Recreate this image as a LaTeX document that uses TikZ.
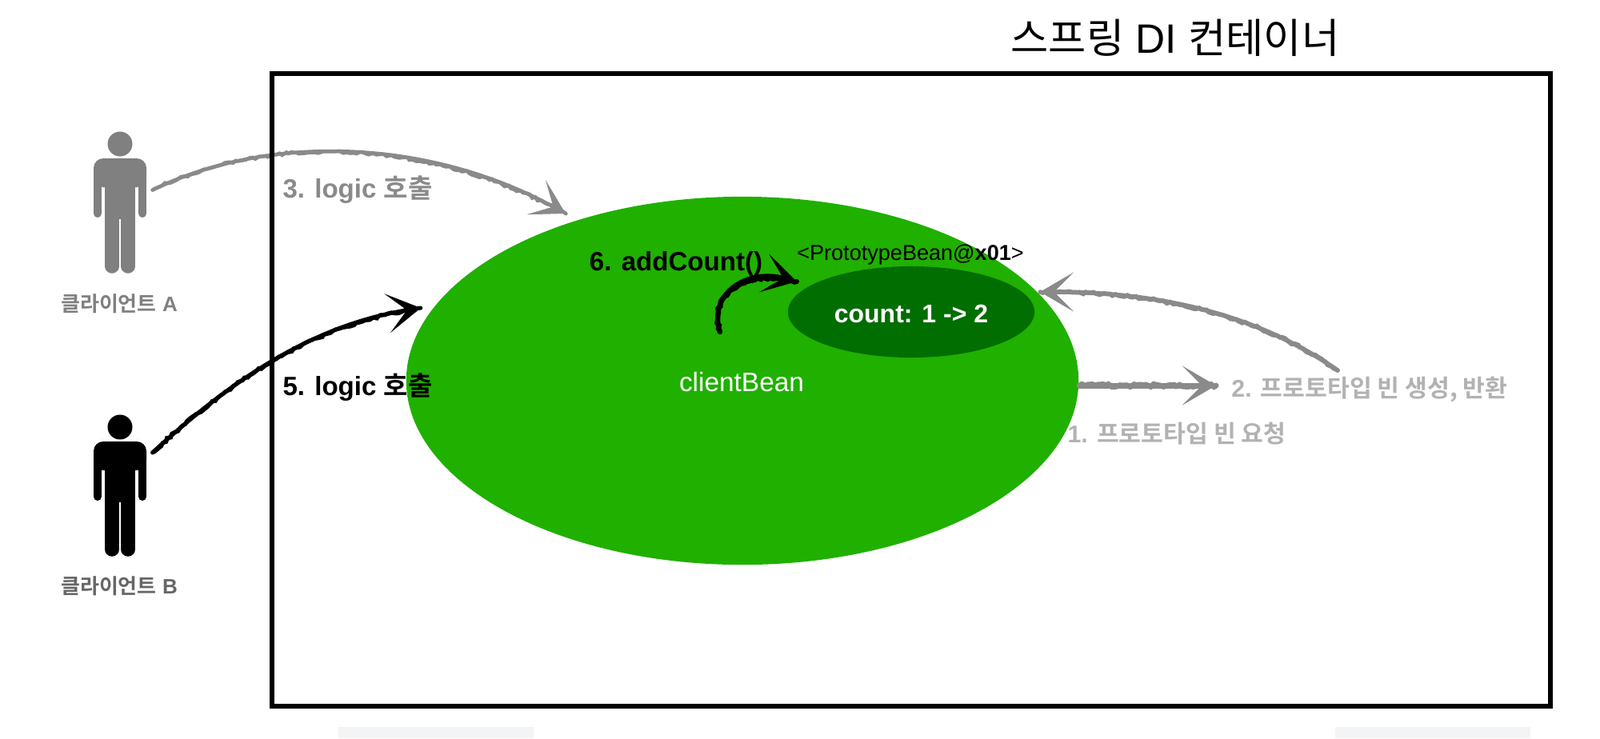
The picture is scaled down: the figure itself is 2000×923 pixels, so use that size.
\documentclass[tikz,border=0pt]{standalone}
\usepackage{fontspec}
\setmainfont{Liberation Sans}
\newfontfamily\kr[BoldFont={Noto Sans CJK KR Bold}]{Noto Sans CJK KR}
\usetikzlibrary{arrows.meta,decorations.pathmorphing,shapes.geometric}

\definecolor{beanGreen}{HTML}{20B000}
\definecolor{countGreen}{HTML}{006E00}
\definecolor{callGray}{HTML}{8A8A8A}
\definecolor{noteGray}{HTML}{B2B2B2}
\definecolor{tabGray}{HTML}{F3F4F6}

\tikzset{
    boldlabel/.style={inner sep=0, font=\fontsize{9.4}{11}\selectfont\bfseries},
    notelabel/.style={inner sep=0, text=noteGray, font=\fontsize{8.6}{10}\selectfont\bfseries},
    clientlabel/.style={inner sep=0, font=\fontsize{7.4}{9}\selectfont\bfseries},
    clientbox/.style={inner sep=0, minimum width=0.8cm, minimum height=1.76cm},
    sketch/.style={line cap=round, -{Stealth[length=12pt, width=14pt, inset=7pt]}, postaction={draw, -, decorate, decoration={random steps, segment length=1.2pt, amplitude=0.45pt}}},
    person/.pic={
        \fill[#1] (0,-74) circle (15.5);
        \fill[#1, rounded corners=0.12cm] (-33,-56) rectangle (33,-20);
        \fill[#1] (-19,-40) rectangle (19,20);
        \draw[#1, line width=0.1cm, line cap=round] (-28,-40) -- (-28,13);
        \draw[#1, line width=0.1cm, line cap=round] (28,-40) -- (28,13);
        \draw[#1, line width=0.175cm, line cap=round] (-10,0) -- (-10,79);
        \draw[#1, line width=0.175cm, line cap=round] (10,0) -- (10,79);
    }
}

\begin{document}
\begin{tikzpicture}[x=0.01cm, y=-0.01cm]
    \useasboundingbox (0,0) rectangle (2000,923);

    % tabs under the frame
    \fill[tabGray] (423,909) rectangle (667,923);
    \fill[tabGray] (1669,909) rectangle (1913,923);

    \node[clientbox] (clientA) at (150,254) {};
    \node[clientbox] (clientB) at (150,608) {};
    \pic at (clientA) {person=gray};
    \pic at (clientB) {person=black};

    \coordinate (logicA) at (707,267);
    \draw[callGray, line width=0.045cm, sketch] (clientA.22) .. controls (340,165) and (540,175) .. (logicA);

    \node[draw, line width=0.06cm, minimum width=15.98cm, minimum height=7.91cm] (container) at (1139,487.5) {};
    \node[font=\fontsize{14.6}{17}\selectfont, inner sep=0] (title) at (1469,47) {{\kr 스프링} DI {\kr 컨테이너}};

    \node[ellipse, fill=beanGreen, minimum width=8.4cm, minimum height=4.6cm, inner sep=0] (clientBean) at (928,476) {};
    \node[ellipse, fill=countGreen, minimum width=3.08cm, minimum height=1.14cm, inner sep=0] (prototypeBean) at (1139,390) {};

    \node[boldlabel, text=white, font=\fontsize{9.1}{11}\selectfont\bfseries] (count) at (1139,392) {count: 1 -> 2};
    \node[inner sep=0, text=white, font=\fontsize{9.5}{11}\selectfont] (beanName) at (927,478) {clientBean};
    \node[inner sep=0, font=\fontsize{7.7}{10}\selectfont] (beanId) at (1138,318) {<PrototypeBean@\textbf{x01}>};

    \node[clientlabel, text=gray] (labelA) at (149,380) {{\kr 클라이언트} A};
    \node[clientlabel, text=black!60] (labelB) at (149,733) {{\kr 클라이언트} B};
    \node[boldlabel, text=callGray] (logic3) at (447,237) {3. logic {\kr 호출}};
    \node[boldlabel] (logic5) at (447,484) {5. logic {\kr 호출}};
    \node[boldlabel] (add6) at (845,330) {6. addCount()};
    \node[notelabel] (note2) at (1712,487) {2. {\kr 프로토타입 빈 생성, 반환}};
    \node[notelabel] (note1) at (1471,542) {1. {\kr 프로토타입 빈 요청}};

    \coordinate (logicB) at (526,385);
    \coordinate (addFrom) at (900,415);
    \coordinate (addTo) at (996,352);
    \coordinate (backFrom) at (1672,463);
    \coordinate (backTo) at (1300,365);
    \coordinate (askFrom) at (1349,482);
    \coordinate (askTo) at (1520,482);

    \draw[black, line width=0.05cm, sketch] (clientB.46) .. controls (300,465) and (400,405) .. (logicB);
    \draw[black, line width=0.06cm, sketch] (addFrom) .. controls (885,370) and (930,335) .. (addTo);
    \draw[callGray, line width=0.055cm, sketch] (backFrom) .. controls (1560,385) and (1430,365) .. (backTo);
    \draw[callGray, line width=0.07cm, sketch] (askFrom) -- (askTo);
\end{tikzpicture}
\end{document}
